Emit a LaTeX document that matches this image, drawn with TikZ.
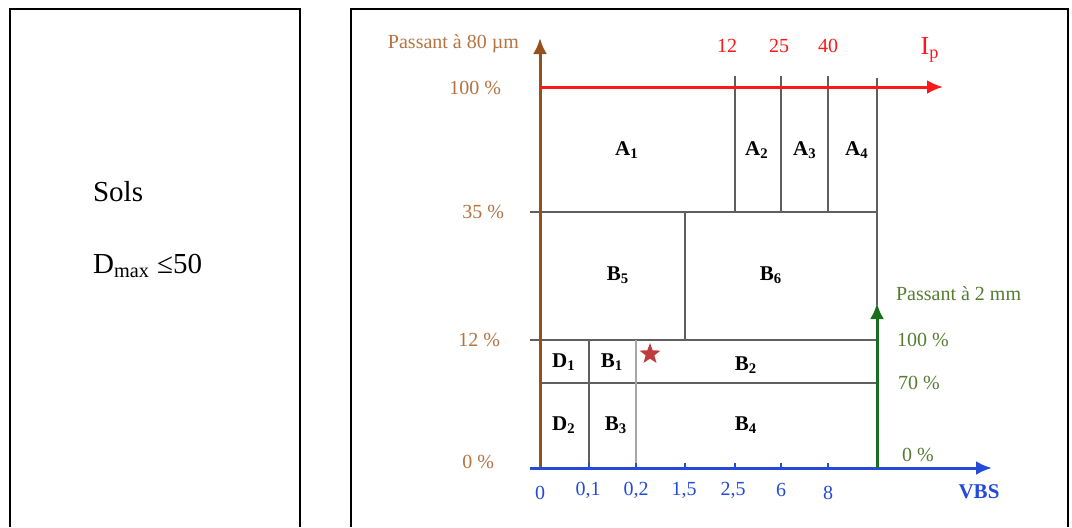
\documentclass[tikz,border=0pt]{standalone}
\usepackage{fontspec}
\setmainfont{Liberation Serif}
\usetikzlibrary{shapes.geometric,arrows.meta}
\definecolor{brun}{RGB}{150,80,25}
\definecolor{brunclair}{RGB}{180,115,65}
\definecolor{bleu}{RGB}{35,75,215}
\definecolor{vert}{RGB}{25,110,30}
\definecolor{vertclair}{RGB}{85,125,50}
\definecolor{rouge}{RGB}{250,25,25}
\definecolor{grille}{RGB}{95,95,95}
\definecolor{etoile}{RGB}{190,60,60}

\begin{document}
\begin{tikzpicture}[x=0.5pt,y=-0.5pt,
  grid/.style={grille,line width=0.7pt},
  axe/.style={line width=1.5pt,-{Latex[length=8pt,width=7pt]}},
  zone/.style={font=\bfseries\fontsize{10.5}{12}\selectfont},
  lab/.style={font=\fontsize{10}{11}\selectfont}]
\useasboundingbox (0,0) rectangle (1072,527);
\draw[line width=0.8pt] (10,527)--(10,9)--(300,9)--(300,527);
\draw[line width=0.8pt] (351,527)--(351,9)--(1068,9)--(1068,527);
\node[anchor=west,font=\fontsize{14.5}{16}\selectfont] (sols) at (86,192) {Sols};
\node[anchor=west,font=\fontsize{14.5}{16}\selectfont] (dmax) at (86,266) {D\textsubscript{max} ≤50};
\coordinate (O) at (540,470);
\coordinate (yhaut) at (540,38);
\coordinate (ip0) at (540,87);
\coordinate (ip1) at (943,87);
\coordinate (x0) at (530,468);
\coordinate (x1) at (992,468);
\coordinate (v0) at (877,468);
\coordinate (v1) at (877,303);
\draw[grid] (530,212)--(877,212);
\draw[grid] (530,340)--(877,340);
\draw[grid] (540,383)--(877,383);
\draw[grid] (877,78)--(877,305);
\foreach \x in {735,781,828} \draw[grid] (\x,76)--(\x,212);
\draw[grid] (685,212)--(685,340);
\draw[grid] (589,340)--(589,468);
\draw[grid,grille!55] (636,340)--(636,468);
\foreach \x in {589,636,685,735,781,828} \draw[bleu,line width=0.8pt] (\x,463)--(\x,470);
\draw[axe,brun] (O)--(yhaut);
\draw[axe,rouge] (ip0)--(ip1);
\draw[axe,bleu] (x0)--(x1);
\draw[axe,vert] (v0)--(v1);
\node[lab,brunclair,anchor=east] (p80) at (526,44) {Passant à 80 µm};
\node[lab,brunclair,anchor=east] (c100) at (508,88) {100 \%};
\node[lab,brunclair,anchor=east] (c35) at (511,212) {35 \%};
\node[lab,brunclair,anchor=east] (c12) at (507,340) {12 \%};
\node[lab,brunclair,anchor=east] (c0) at (501,462) {0 \%};
\node[lab,rouge] (i12) at (727,46) {12};
\node[lab,rouge] (i25) at (779,46) {25};
\node[lab,rouge] (i40) at (828,46) {40};
\node[rouge,font=\fontsize{13}{14}\selectfont] (ip) at (930,50) {I\textsubscript{p}};
\node[lab,bleu] (b0) at (540,493) {0};
\node[lab,bleu] (b01) at (588,490) {0,1};
\node[lab,bleu] (b02) at (636,490) {0,2};
\node[lab,bleu] (b15) at (684,490) {1,5};
\node[lab,bleu] (b25) at (733,490) {2,5};
\node[lab,bleu] (b6) at (781,490) {6};
\node[lab,bleu] (b8) at (828,493) {8};
\node[bleu,font=\bfseries\fontsize{10.5}{12}\selectfont] (vbs) at (979,492) {VBS};
\node[lab,vertclair,anchor=west] (p2) at (889,294) {Passant à 2 mm};
\node[lab,vertclair,anchor=west] (g100) at (890,340) {100 \%};
\node[lab,vertclair,anchor=west] (g70) at (891,383) {70 \%};
\node[lab,vertclair,anchor=west] (g0) at (895,455) {0 \%};
\node[zone] (a1) at (627,150) {A\textsubscript{1}};
\node[zone] (a2) at (757,150) {A\textsubscript{2}};
\node[zone] (a3) at (805,150) {A\textsubscript{3}};
\node[zone] (a4) at (857,150) {A\textsubscript{4}};
\node[zone] (b5z) at (618,275) {B\textsubscript{5}};
\node[zone] (b6z) at (771,275) {B\textsubscript{6}};
\node[zone] (d1) at (564,362) {D\textsubscript{1}};
\node[zone] (b1z) at (612,362) {B\textsubscript{1}};
\node[zone] (b2z) at (746,365) {B\textsubscript{2}};
\node[zone] (d2) at (564,425) {D\textsubscript{2}};
\node[zone] (b3z) at (616,425) {B\textsubscript{3}};
\node[zone] (b4z) at (746,425) {B\textsubscript{4}};
\node[star,star points=5,star point ratio=2.4,fill=etoile,inner sep=0pt,minimum size=11pt] (etoile) at (650,354) {};
\end{tikzpicture}
\end{document}
